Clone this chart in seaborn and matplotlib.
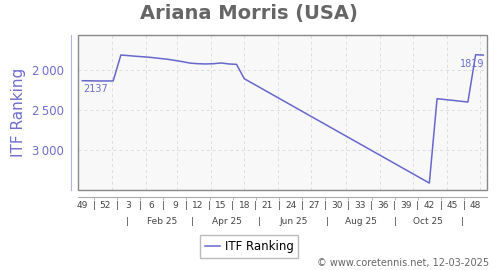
import matplotlib
matplotlib.use("Agg")
import matplotlib.pyplot as plt
import matplotlib.dates as mdates
from matplotlib.lines import Line2D
from matplotlib.patches import Rectangle
import seaborn as sns
import pandas as pd

# ---- data ----
dates = ["2024-12-05", "2024-12-12", "2024-12-19", "2024-12-26", "2025-01-02",
         "2025-01-09", "2025-01-16", "2025-01-23", "2025-01-30", "2025-02-06",
         "2025-02-13", "2025-02-20", "2025-02-27", "2025-03-06", "2025-03-13",
         "2025-03-20", "2025-03-27", "2025-04-03", "2025-04-10", "2025-04-17",
         "2025-04-24", "2025-05-01",
         "2025-10-16", "2025-10-23", "2025-10-30", "2025-11-06", "2025-11-13",
         "2025-11-20", "2025-11-27", "2025-12-04"]
ranking = [2137, 2138, 2140, 2140, 2140,
           1818, 1826, 1834, 1841, 1849,
           1860, 1870, 1885, 1901, 1919,
           1926, 1929, 1926, 1917, 1929,
           1934, 2112,
           3406, 2360, 2370, 2380, 2391,
           2401, 1815, 1819]

week_tick_dates = ["2024-12-05", "2024-12-26", "2025-01-16", "2025-02-06", "2025-02-27",
                   "2025-03-20", "2025-04-10", "2025-05-01", "2025-05-22", "2025-06-12",
                   "2025-07-03", "2025-07-24", "2025-08-14", "2025-09-04", "2025-09-25",
                   "2025-10-16", "2025-11-06", "2025-11-27"]
week_labels = ["49", "52", "3", "6", "9", "12", "15", "18", "21", "24", "27",
               "30", "33", "36", "39", "42", "45", "48"]
month_tick_dates = ["2025-02-15", "2025-04-15", "2025-06-15", "2025-08-15", "2025-10-15"]
month_labels = ["Feb 25", "Apr 25", "Jun 25", "Aug 25", "Oct 25"]
month_sep_dates = ["2025-01-15", "2025-03-15", "2025-05-15", "2025-07-15",
                   "2025-09-15", "2025-11-15"]
y_ticks = [2000, 2500, 3000]
y_tick_labels = ["2\u2009000", "2\u2009500", "3\u2009000"]

title = "Ariana Morris (USA)"
series_name = "ITF Ranking"
credit = "\u00a9 www.coretennis.net, 12-03-2025"

# ---- style ----
LINE = "#6767cc"
TXT = "#6e6ecf"
W, H = 500, 270

df = pd.DataFrame({"date": pd.to_datetime(dates), series_name: ranking})

fig = plt.figure(figsize=(W / 100, H / 100), dpi=100)
ax = fig.add_axes([78 / W, 1 - 190 / H, (487 - 78) / W, (190 - 35) / H])
ax.set_facecolor("#f8f8f8")

sns.lineplot(data=df, x="date", y=series_name, ax=ax, color=LINE, linewidth=1.1,
             label=series_name, legend=False)

ax.set_xlim(pd.Timestamp("2024-12-01 02:00"), pd.Timestamp("2025-12-07 08:00"))
ax.set_ylim(3492, 1570)

# grid
for d in pd.date_range("2025-01-01", "2025-12-01", freq="MS"):
    ax.axvline(d, color="#dddddd", lw=0.7, ls=(0, (3, 3)), zorder=0)
for v in y_ticks:
    ax.axhline(v, color="#dddddd", lw=0.7, ls=(0, (3, 3)), zorder=0)

# spines
for s in ["top", "right"]:
    ax.spines[s].set_visible(False)
ax.spines["left"].set_position(("outward", 5))
ax.spines["left"].set_color("#b4b4e0")
ax.spines["bottom"].set_position(("outward", 5))
ax.spines["bottom"].set_color("#aaaaaa")
ax.add_patch(Rectangle((0, 0), 1, 1, transform=ax.transAxes, fill=False,
                       edgecolor="#888888", lw=1.0, clip_on=False, zorder=5))

# y axis
ax.set_yticks(y_ticks)
ax.set_yticklabels(y_tick_labels)
ax.tick_params(axis="y", length=0, pad=5, labelsize=8.5, labelcolor=TXT)
ax.set_ylabel(series_name, color=TXT, fontsize=11)
ax.yaxis.set_label_coords(-0.127, 0.5)

# x axis: week numbers with separators
wk = pd.to_datetime(week_tick_dates)
ax.set_xticks(wk)
ax.set_xticklabels(week_labels)
seps = [wk[i] + (wk[i + 1] - wk[i]) / 2 for i in range(len(wk) - 1)]
ax.set_xticks(seps, minor=True)
ax.set_xticklabels(["|"] * len(seps), minor=True)
ax.tick_params(axis="x", which="major", length=0, pad=3.2, labelsize=6.5, labelcolor="#444444")
ax.tick_params(axis="x", which="minor", length=2.5, pad=0.7, labelsize=6.5,
               labelcolor="#444444", color="#aaaaaa", width=0.6)
ax.set_xlabel("")

# month row
trans = ax.get_xaxis_transform()
y_month = (190 - 221) / 155
for d, lab in zip(month_tick_dates, month_labels):
    ax.text(mdates.date2num(pd.Timestamp(d)), y_month, lab, transform=trans,
            ha="center", va="center", fontsize=6.5, color="#444444")
for d in month_sep_dates:
    ax.text(mdates.date2num(pd.Timestamp(d)), y_month, "|", transform=trans,
            ha="center", va="center", fontsize=6.5, color="#444444")

# value annotations (first and last)
ax.annotate(str(ranking[0]), xy=(df["date"].iloc[0], ranking[0]), xytext=(0.5, -2.5),
            textcoords="offset points", ha="left", va="top", fontsize=7, color=TXT)
ax.annotate(str(ranking[-1]), xy=(df["date"].iloc[-1], ranking[-1]), xytext=(0.5, -3),
            textcoords="offset points", ha="right", va="top", fontsize=7, color=TXT)

# title, legend, credit
fig.text(249 / W, 1 - 14 / H, title, ha="center", va="center", fontsize=14,
         fontweight="bold", color="#666666")
handles = [Line2D([0], [0], color=LINE, lw=1.1)]
fig.legend(handles, [series_name], loc="center", bbox_to_anchor=(249 / W, 1 - 246.5 / H),
           fontsize=8.5, frameon=True, fancybox=False, edgecolor="#aaaaaa",
           handlelength=1.3, handletextpad=0.4, borderpad=0.4, borderaxespad=0)
fig.text(489 / W, 1 - 263 / H, credit, ha="right", va="center", fontsize=7, color="#666666")

fig.savefig("out.png", dpi=100)
